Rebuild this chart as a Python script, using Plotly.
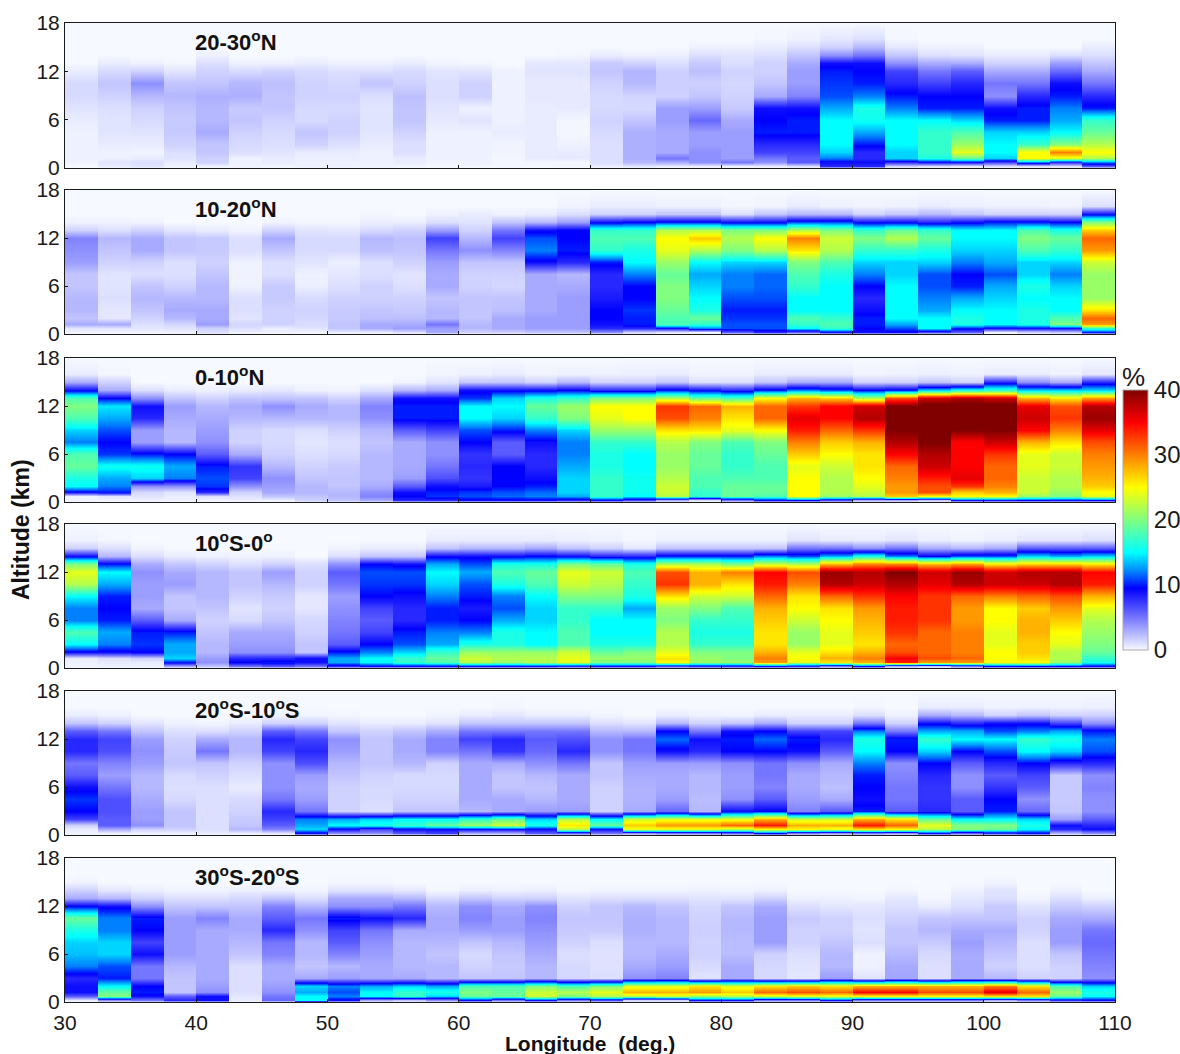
import plotly.graph_objects as go

W, H = 1180, 1054
lon_start = 30.0
lon_step = 2.5
levels = [0, 0.2, 0.7, 1.3, 2, 3, 4.5, 6, 7.5, 9, 10.5, 12, 13, 14, 15, 16, 18]
y_ticks = [0, 6, 12, 18]
x_ticks = [30, 40, 50, 60, 70, 80, 90, 100, 110]
cbar_ticks = [0, 10, 20, 30, 40]
titles = ["20-30<sup>o</sup>N", "10-20<sup>o</sup>N", "0-10<sup>o</sup>N",
          "10<sup>o</sup>S-0<sup>o</sup>", "20<sup>o</sup>S-10<sup>o</sup>S", "30<sup>o</sup>S-20<sup>o</sup>S"]

# each inner list: one longitude column, values at levels 0.2 .. 16 km (0 and 18 km are zero)
p1 = [
[0,.2,.3,.3,.3,.3,.5,.8,1.2,1.2,.5,0,0,0,0],
[.5,.8,.3,.3,.5,.8,.8,1,1.5,2,1.2,.5,0,0,0],
[.8,1,.5,.2,.5,.8,1.2,1.5,2.5,4,1.5,.3,0,0,0],
[.3,.5,.8,1,1.5,1.8,1.8,2,2.5,2,.8,.1,0,0,0],
[.3,1.5,1.5,2,2,3,2.5,2.5,2.8,2,1.5,1,.3,0,0],
[.2,.3,.3,1,1.2,1.5,2,1.8,2.8,2.5,1.2,.3,0,0,0],
[.2,.5,.5,.8,1,1.2,1.5,2,2,2.2,1.5,.3,0,0,0],
[.3,.3,.4,.5,1.5,2,1.2,1.2,1.5,1.5,1.2,.5,0,0,0],
[.3,.3,.4,.5,1,1.5,1.5,1.2,1.5,1.3,1,.3,0,0,0],
[.2,.3,.3,.3,.5,.8,.8,.8,1,2,1,.3,0,0,0],
[.2,.5,.5,1,1,1.5,2,2,2.2,1.5,1.2,.5,0,0,0],
[.1,.2,.3,.3,.3,.3,.6,.8,1,1,.8,.2,0,0,0],
[.1,.3,.3,.3,.3,.3,.8,.3,1.5,1.5,.8,.1,0,0,0],
[.1,.1,.1,.2,.2,.5,.3,.3,.3,.3,.3,0,0,0,0],
[.1,.1,.5,.5,.5,.5,.5,.5,.6,.6,.8,.7,0,0,0],
[.1,.1,.6,.5,.3,.1,.1,.6,.6,.6,.8,.7,.1,0,0],
[.5,1,1,1,1,1.2,1.5,1.2,1.2,1.5,2,1.8,.5,0,0],
[.8,2.5,2.8,2.8,2.8,2.8,2,1.2,1.4,2.4,2.6,1.5,.3,0,0],
[.5,3,5,3,3,3,3.5,3.5,1.5,1.6,1.6,1,.4,0,0],
[.4,4,4,4,3.5,3.5,5.5,3.5,2,1.5,2.2,1.8,1,.3,0],
[.3,5,3.5,3.5,3.5,3.5,3,1.8,1.5,1.3,1.5,1,.8,.3,0],
[.5,4,5,7,8,10,9.5,9,3,2,1.5,1.5,1,.5,.1],
[1,6,6,7,8,10,10,9,4.5,3.5,3.5,3,2,1,.3],
[8,9,12,14,15,15,15,13,11,10.5,10,9,4,1.5,.7],
[8,9,8,8,10,13,15.5,16,12,10,9.5,9,5,2.5,1],
[1.5,8,14,14,15,15,15,12,10,8,7,4,2,.7,.1],
[1,9,16,17,17,17,15,10,9.5,7,5,3,1,.3,0],
[.6,9,19,24,21,18,14,10,9.5,8,6,3,.8,.3,0],
[1,7,14,15,15,14,10,9,4,5,3,1.5,.5,0,0],
[1,12,25,25,17,14,10,10,8,5,3,1.5,.5,0,0],
[1,8,24,30,20,15,13,12,10,9,5.5,3.5,1,0,0],
[6,12,22,25,22,19,17,10,8,5,3,2,1,.5,0],
]
p2 = [
[.2,.7,3,2,2.5,2.5,2,2,3.5,4,4.5,1.5,.3,0,0],
[.2,.8,3,.7,.7,1,.8,.8,1.5,2,2.5,1,.3,0,0],
[.2,.7,1,1.5,2,2.5,2,1,1.5,3,3,1.5,.2,0,0],
[.3,.8,1.3,2.5,3,2.5,1.5,1,1,2,2,.8,0,0,0],
[1,1.5,3.5,3,3,2.5,2.5,2,1.5,1.8,1.8,.5,0,0,0],
[.3,1,1.3,.8,1,1,.3,.2,.3,1,1,.2,0,0,0],
[.3,.5,1.5,1.5,1.5,1.8,1.8,1,1,2,3,1.5,.2,0,0],
[.2,.8,1.1,1.3,1.5,1.2,.4,.3,.8,1.2,1.2,.8,.1,0,0],
[.5,2,2,1.8,1.8,1.5,1,.7,.4,1.2,1.2,.7,.1,0,0],
[.5,3,3,2.2,2,1.5,1.5,1,1,2.2,2.5,1.2,.4,.1,0],
[1,3.5,3,2.2,1.8,1.5,1,.8,1.5,2,2.2,1.5,.4,0,0],
[3,3.5,5,2.5,2.5,2,3,3,3.5,5,7,3.5,1,.3,0],
[1.5,2.5,2.5,2,2,2,1.5,1.5,2,4,2.5,1.5,.8,.5,0],
[1.5,3,3,3,2.2,2,1.3,1.5,2,4.5,7,5,2,.3,0],
[2,3.5,3.5,3.5,3,3,3,3,9,12,11,9,2.5,.5,0],
[2,3.5,3.5,3.5,3.5,3.5,3,2.5,8,10,9.5,9.5,3.5,1,.2],
[4,8,9,9.5,9.5,8.5,8,8,10,17,18,17,9,1.5,.5],
[1.5,8,10,10,10.5,9.5,9.5,12,15,16,18,17,9.5,1.5,.5],
[.8,9,18,18,19,20,20,19,21,24,25,22,10,2,.3],
[.3,12,17,19,16,15,14,13,15,22,27,22,10,2,.3],
[6,11,11,10.5,10,11,12,12,14,20,22,20,9,1,.1],
[8,11,11,10.5,10,11,11.5,11.5,14,22,25,20,9,2,.2],
[6,15,17,18,15,15,17,18,20,26,30,22,11,2.5,.5],
[9,17,18,17,15,15,15,16,18,22,23,20,11,2.5,.3],
[9,9.5,10,10,9,8,9.5,12,14,17,20,17,9,1.5,.2],
[9,11,13,15,15,15,15,14,14,17,22,19,9,2,.3],
[7,15,15,15,13,12,11,11,14,16,19,17,8,2.5,.5],
[6,10,16,16,15,13,10,9.5,12,14,15,15,9,2,.4],
[.3,9,15,15,15,14,13,11,13,14,15,15,10,1.5,.3],
[1.5,9,16,16,16,15,16,14,14,18,20,18,10,1.5,.3],
[2,9,20,18,15,15,14,12,14,17,19,16,9.5,1.5,.2],
[10,17,29,31,26,21,21,21,23,29,31,27,20,9,1],
]
p3 = [
[.2,.3,9,15,16,19,18,12,14,18,20,18,9,3,.5],
[.2,.7,10,12,13,15.5,10.5,9.5,11,13,14.5,9.5,3,1.5,.1],
[.3,.8,1.2,4,14,15.5,10,3.5,3.5,8,9,4,1,0,0],
[.3,.5,.8,4,12,13,9.5,2.5,2.5,3,3.5,2,.5,0,0],
[.2,1,8,10.5,11,10,6,4,3.5,3,2.5,1.5,.3,0,0],
[.3,1,1.5,4,7,7.5,3,1.5,1.5,2.5,3,2,.5,0,0],
[.3,2,3,3.5,4,2.5,1.5,1.2,1.2,2.5,4,2,.7,0,0],
[1.5,2,2.5,2.5,2,1.5,1,.7,1,2.5,3,2,.3,0,0],
[2,2.5,2.5,2,2,1.8,1.2,1,1.5,2.5,2.5,1.5,.2,0,0],
[3,4.5,4,3,2.5,2.5,2.5,2,2.5,4,4.5,3,1,0,0],
[8,9.5,9,6,3.5,3,3,3,6,10,10,9,2.5,.2,0],
[8,10.5,10,9,6.5,5,4,4,7,10,10,9,3,.8,.2],
[9,11,10.5,8.5,7.5,8,7.5,9.5,11,15,15,10.5,9,2,.3],
[9,11.5,11,9.5,9.5,9.5,6,6,10,14,15,14,9,2,.5],
[9,12,11.5,10,9,8,8,9,12,17,19,16,9,1.5,.2],
[8,13,14,14,14,13,12,12,14,20,21,17,9.5,2.5,.3],
[9,17,17,17,17,16,16,17,21,24,25,20,8,1.5,.3],
[7,15,15.5,15.5,15.5,15,15,17,21,25,25,20,8,1.5,.4],
[3,22,23,23,22,21,21,22,26,32,33,22,10,2,.5],
[1,17,17,18,18,19,19,20,26,30,31,19,9,1,.2],
[5,19,19,19,18,17,17,18,24,26,28,18,8,1,.2],
[9,18,19,19,18,18,19,20,25,31,31,25,10,2,.5],
[9.5,25,25,25,25,24,27,30,34,36,33,28,12,3,.5],
[7,21,22,22,22,23,25,27,31,35,35,27,11,3,.5],
[3,22,23,24,25,26,26,28,33,38,37,22,9.5,1.5,.2],
[3,27,29,29,30,31,35,38,40,41,40,32,10,1.5,.3],
[2,25,32,32,34,37,38,40,41,41,41,37,14,2,.4],
[9,25,27,33,36,35,35,35,40,41,41,38,16,1.5,.3],
[9,25,28,30,31,31,33,37,40,41,41,37,17,8,.5],
[9.5,21,23,23,23,24,24,28,35,37,36,28,14,4,.5],
[9,20,21,22,22,23,23,26,30,33,32,26,14,3,.3],
[9.5,24,25,27,28,29,30,32,36,39,38,29,14,8,.7],
]
p4 = [
[.2,.3,.5,9,15,18,12,12,15,22,24,20,9,1.5,.3],
[.3,.5,1,9,12,13,10,9.5,10,13,15,10,2.5,1,.1],
[.3,.5,1.5,9.5,10.5,10,6,3,3.5,3.5,4,3,1,.2,0],
[3,10,14,13,13,10,3,2,2,3.5,3,2,.5,0,0],
[2,4,3.5,2.5,2.5,2,1.5,2,2.5,2.5,2.5,1.5,.3,0,0],
[5,9.5,8,4,3.5,3,1.2,.8,1.5,2,2,1,.2,0,0],
[6,10,8,4,3.5,3,2,1.5,1.8,2.5,3.5,1.5,.3,0,0],
[5,9,9,2,2,1.5,1.3,.7,.7,1.5,1.5,1,0,0,0],
[8,13,13,10,6,5,4.5,4,3.5,5,6,4,1,.2,0],
[9,15,15,12,9.5,7,6,7,9.5,10.5,11,9.5,2,.5,0],
[9,17,17,14,11,10,8,8,9,10.5,11,9,2,.5,0],
[9,18,19,17,13,12,10,10,12,14,15,13,9,2,.5],
[9,22,23,21,16,12,9.5,8.5,10,11,13,11,9,2.5,.5],
[9,21,22,21,16,16,13,11,12,16,18,16,9,2.5,.5],
[9,22,22,21,15,15,14,14,15,18,19,16,9.5,3,.5],
[8,24,24,23,18,18,17,17,20,23,24,20,9,2,.4],
[9,20,21,19,16,15,15,17,20,22,23,19,8,1.5,.3],
[9,20,21,20,16,15,15,13,16,17,18,16,8,.7,.1],
[7,25,26,24,22,22,20,21,26,33,32,22,10,2,.3],
[8,21,21,20,17,16,17,20,23,28,28,22,10,2,.3],
[8,21,20,20,17,16,17,18,23,26,30,20,10,2,.3],
[9,29,30,28,26,26,27,28,31,34,35,23,12,2,.3],
[8,24,25,24,21,21,23,25,26,30,32,22,11,5,.8],
[5,26,28,26,24,24,25,26,31,38,39,28,13,5,.5],
[9,28,30,28,26,27,28,29,33,37,38,30,16,4,.5],
[3,34,35,32,31,33,34,34,35,38,40,30,12,5,.7],
[2,29,32,31,31,31,33,33,33,36,37,28,9.5,3,.4],
[5,29,31,30,30,30,29,29,31,38,39,29,11,2.5,.2],
[9,25,25,25,24,24,25,25,30,37,37,26,11,3,.4],
[9.5,25,26,27,27,28,28,27,31,37,38,27,14,6,.7],
[9.5,21,22,22,24,25,27,29,32,38,38,27,13,6,.7],
[9,16,17,19,20,21,22,24,28,34,35,26,14,6,1],
]
p5 = [
[.3,.5,1.5,7,9.5,10.5,9,6,5,8,8,6,2,.5,0],
[.3,3,6,6,6.5,6.5,5,3.5,4.5,6.5,7,5,1.5,.3,0],
[.3,1.5,4,3.5,3.5,3,2.5,2.5,3.5,4,3.5,2,.8,0,0],
[.3,1.5,2,2,2,1.2,1,1.2,2,1.8,1.5,1,.3,0,0],
[.5,1,1,1,1,1,1,1.5,2,5,3,1,.2,0,0],
[.5,2.5,2,1.8,1.5,1.2,.5,1,1.5,2.5,2.5,1.5,.5,0,0],
[.7,4.5,6,7,8,5,4,4,4,7,8,6,1.5,.2,0],
[9,14,13,12,5,3.5,3,3.5,6.5,8,7,5,1.5,.2,0],
[4,9,15,13,1.5,1.5,1.5,2,2.5,3.5,4,2,.8,.1,0],
[4,7,16,14,1,1.2,1.2,1.5,2,2,2,1.5,.5,0,0],
[6,9,17,15,2,1.5,1.2,1.2,2.5,3,3,2,.5,0,0],
[7,9,19,15,2,1.5,1.2,1.2,1.5,4.5,4.5,3,.8,.2,0],
[3,9,21,17,2.5,3,3,3,3,5,7,5,2,.5,0],
[3,9,23,19,3,3,2,2,3,7.5,8,5,2,.7,.1],
[6,9,16,14,3.5,2.5,2,2.5,4,5.5,6,5,2,.4,0],
[6,22,26,22,3.5,3,3,3,5,8,6.5,5,2,.4,0],
[5,9,19,15,1.5,1.5,1.5,2,2,4,4,2.5,1,.2,0],
[4,24,27,23,3,2.7,2.7,3,3.5,5,5,2.5,.8,0,0],
[5,24,29,24,5.5,3.5,3,3,3.5,9,11.5,9.5,2.5,.5,0],
[5,24,29,24,2.5,2.3,2.5,2.5,3.5,8,9,5,1.5,.3,0],
[6,22,31,24,9,4,3.5,3.5,4,9.5,10,9,2,.2,0],
[9.5,25,34,28,9.5,6,4.5,5,5,9.5,11.5,9.5,3,.5,0],
[5,25,28,23,4.5,3.5,3,3,4,9,10,7,1.5,.5,0],
[4,24,28,23,6,3,2.2,2.5,3,6,8,7,1.5,.5,0],
[5,26,34,28,10,9,9.5,10,12,15,16,12,5,1,.1],
[4,25,31,26,6,5,5,4.5,4,9.5,10,5,1.5,.3,0],
[9,22,24,19,8,7.5,7.5,8,9.5,14,17,13,9,3,.5],
[6,20,20,15,6,6,4,4,6,9.5,15,13,8,2.5,.5],
[8,19,20,15,10,9.5,7.5,6,8,11,15,11,9,1.5,.3],
[9,15,16,14,5.5,4,6,7,9.5,15,17,12,9,2,.3],
[2.5,8,9,3.5,2,1.8,1.8,1.8,8,14,16,13,7,1.5,.3],
[4,9,8,6,4,4,4.5,4,8,11,12,10,4,1.5,.4],
]
p6 = [
[.5,6,9,9,8,12,13.5,14,16,19,9.5,3,1.5,.2,0],
[4,20,19,15,10,11,14,14,12,12,9,2.5,.7,0,0],
[5,9,10,9.5,5,5,9,7,9.5,10,4,1.5,.4,0,0],
[8,6,2,2,2,2.5,3.5,3.5,3.5,3.5,2,1,.2,0,0],
[9,9,4,3.5,3,3,3,3,3,4.5,2,1,.2,0,0],
[.5,.7,1,1,1,1,2,2.5,3,3,2,1.3,.4,0,0],
[5.5,5,4,3.5,3,3,4.5,5,8,6,4.5,2,.3,0,0],
[15,15,13,14,3,2,2.5,2.5,4,5,2.5,1,.2,0,0],
[9,12,11,12,3.5,2.5,4.5,6,7,10,4,3,.8,.1,0],
[3,15,15,13,3,3,3.5,4,5,9,4,3,.8,.1,0],
[2,17,17,14,3,2.5,2.5,2.5,3,8,5,2.5,.6,0,0],
[4,14,16,13,2.5,2.5,2,2.5,3,3,2.5,1.2,.1,0,0],
[9,19,20,18,2,1.5,1.2,2,3.5,4.5,4,2,.4,0,0],
[5,19,19,18,2,1.8,2,2.5,3.5,3.5,3,1.5,.3,0,0],
[9,23,23,20,2.5,2.5,3,3.5,4,4.5,4,1.5,.4,0,0],
[5,20,22,18,1.3,1.2,1,1.5,1.8,2,1.5,.8,.1,0,0],
[7,22,24,20,1,.9,.9,1,1.8,2,2,1,.2,0,0],
[1.5,22,28,24,4,3,2.5,2.5,2.8,2.8,2.5,1,.2,0,0],
[1.5,23,28,24,4.5,3.5,3,2.5,2.5,2.5,2,1,.2,0,0],
[9,21,29,26,.8,1.2,1.5,1.5,1.6,1.5,1.3,.8,.3,0,0],
[9,22,27,24,3,3,2.3,2.3,2.5,2.5,2,.8,.2,0,0],
[5,23,31,26,1.2,1.3,1.5,3.5,3.5,3.5,3,1.5,.3,0,0],
[5,24,32,27,.7,.8,1,1.5,1.5,1.8,1,.3,0,0,0],
[9,24,31,26,3.5,2.5,2.5,2,1.5,1.5,.7,.3,0,0,0],
[5,25,35,28,.8,.3,.3,1,.8,1,.7,.2,0,0,0],
[5,25,35,28,3.2,3,2.5,2,2,1.5,1,.7,.1,0,0],
[5,25,32,28,1,1,1.2,1.8,2.5,2,.5,.1,0,0,0],
[5,25,32,28,3,3,3,3.5,3,2,1,.7,.3,0,0],
[3,26,36,30,2.5,1.5,2,2.5,3,2,1.8,1,.8,.2,0],
[5,26,31,26,1.5,1,1,1,1.5,1.5,.8,.2,0,0,0],
[8,19,21,18,1.5,1.5,2,3.5,3.5,3,1.8,1,.3,0,0],
[9,15,16,14,4,4.5,5,5.5,5,3,1.5,.4,0,0,0],
]
panels = [p1, p2, p3, p4, p5, p6]
panel_px = [(23, 168), (190, 334), (358, 502), (524, 668), (691, 835), (858, 1002)]
plot_left, plot_right = 65, 1115

colorscale = [
    [0, "#f6f9ff"], [0.2375, "#0000ff"], [0.30, "#0080ff"], [0.375, "#00ffff"],
    [0.5, "#80ff80"], [0.625, "#ffff00"], [0.75, "#ff8000"], [0.875, "#ff0000"], [1, "#800000"],
]
FONT = "Liberation Sans, Arial, sans-serif"
INK = "#1a1a1a"

# doubled longitude samples keep each 2.5-degree column flat; smoothing then acts only along altitude
x_samples = []
for i in range(len(p1)):
    edge = lon_start + i * lon_step
    x_samples += [edge + 0.01, edge + lon_step - 0.01]

fig = go.Figure()
layout = {}
annotations = []
for k, (columns, (top, bottom)) in enumerate(zip(panels, panel_px), start=1):
    rows = []
    for lvl in range(len(levels)):
        row = []
        for col in columns:
            v = col[lvl - 1] if 1 <= lvl <= len(col) else 0
            row += [v, v]
        rows.append(row)
    fig.add_trace(go.Heatmap(x=x_samples, y=levels, z=rows, zsmooth="best", coloraxis="coloraxis",
                             xaxis=f"x{k}", yaxis=f"y{k}", hoverinfo="skip"))
    last = k == len(panels)
    layout[f"xaxis{k}"] = dict(domain=[plot_left / W, plot_right / W], range=[30, 110], anchor=f"y{k}",
                               tickvals=x_ticks, showticklabels=last, ticks="inside", ticklen=3, tickcolor=INK,
                               showgrid=False, zeroline=False, showline=True, mirror=True, ticklabelstandoff=2,
                               linecolor=INK, linewidth=1, tickfont=dict(size=21, color=INK, family=FONT))
    layout[f"yaxis{k}"] = dict(domain=[1 - bottom / H, 1 - top / H], range=[0, 18], anchor=f"x{k}",
                               tickvals=y_ticks, ticks="inside", ticklen=3, tickcolor=INK,
                               showgrid=False, zeroline=False, showline=True, mirror=True,
                               linecolor=INK, linewidth=1, tickfont=dict(size=21, color=INK, family=FONT))
    annotations.append(dict(text=f"<b>{titles[k-1]}</b>", xref="paper", yref="paper", x=193 / W, y=1 - (top + 18) / H,
                            xanchor="left", yanchor="middle", showarrow=False,
                            font=dict(size=22, color="#111111", family=FONT)))

annotations += [
    dict(text="<b>Altitude (km)</b>", xref="paper", yref="paper", x=21 / W, y=1 - 530 / H, textangle=-90,
         xanchor="center", yanchor="middle", showarrow=False, font=dict(size=23, color="#111111", family=FONT)),
    dict(text="<b>Longitude\u00a0\u00a0(deg.)</b>", xref="paper", yref="paper", x=590 / W, y=1 - 1043 / H,
         xanchor="center", yanchor="middle", showarrow=False, font=dict(size=21, color="#111111", family=FONT)),
    dict(text="%", xref="paper", yref="paper", x=1133 / W, y=1 - 377 / H,
         xanchor="center", yanchor="middle", showarrow=False, font=dict(size=26, color=INK, family=FONT)),
]

fig.update_layout(
    width=W, height=H, margin=dict(l=0, r=0, t=0, b=0, autoexpand=False), paper_bgcolor="white", plot_bgcolor="white",
    annotations=annotations,
    coloraxis=dict(cmin=0, cmax=40, colorscale=colorscale,
                   colorbar=dict(tickvals=cbar_ticks, ticks="", thicknessmode="pixels", thickness=25,
                                 lenmode="pixels", len=260, x=1123 / W, xanchor="left",
                                 y=1 - 650 / H, yanchor="bottom", xpad=0, ypad=0, outlinecolor="#aaaaaa",
                                 outlinewidth=1, tickfont=dict(size=24, color=INK, family=FONT))),
    **layout,
)
fig.write_html("out.html", config={"displayModeBar": False}, post_script="document.body.style.margin='0';")
